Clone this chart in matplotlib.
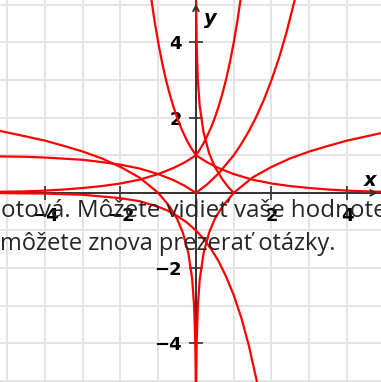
import matplotlib.pyplot as plt
from matplotlib.ticker import FixedLocator, MultipleLocator

# points, one pair of lists per graph
cusp_x = [-1.2, -1.1, -1.0, -0.9, -0.8, -0.7, -0.6, -0.5, -0.4, -0.3, -0.2, -0.1, 0.0,
          0.1, 0.2, 0.3, 0.4, 0.5, 0.6, 0.7, 0.8, 0.9, 1.0, 1.1, 1.2]
cusp_y = [5.28, 4.59, 4.0, 3.48, 3.03, 2.64, 2.3, 2.0, 1.74, 1.52, 1.32, 1.15, 1.0,
          1.15, 1.32, 1.52, 1.74, 2.0, 2.3, 2.64, 3.03, 3.48, 4.0, 4.59, 5.28]

peak_x = [-5.2, -4.5, -4.0, -3.5, -3.0, -2.5, -2.0, -1.5, -1.0, -0.6, -0.3, 0.0,
          0.3, 0.6, 1.0, 1.5, 2.0, 2.5, 3.0, 3.5, 4.0, 4.5, 4.9]
peak_y = [0.03, 0.04, 0.06, 0.09, 0.13, 0.18, 0.25, 0.35, 0.5, 0.66, 0.81, 1.0,
          0.81, 0.66, 0.5, 0.35, 0.25, 0.18, 0.13, 0.09, 0.06, 0.04, 0.03]

vee_x = [-5.2, -4.5, -4.0, -3.5, -3.0, -2.5, -2.0, -1.5, -1.0, -0.6, -0.3, 0.0,
         0.3, 0.6, 1.0, 1.2, 1.4, 1.6, 1.8, 2.0, 2.2, 2.4, 2.62]
vee_y = [0.97, 0.96, 0.94, 0.91, 0.88, 0.82, 0.75, 0.65, 0.5, 0.34, 0.19, 0.0,
         0.23, 0.52, 1.0, 1.3, 1.64, 2.03, 2.48, 3.0, 3.59, 4.28, 5.15]

lnl_x = [-5.2, -4.5, -4.0, -3.5, -3.0, -2.5, -2.0, -1.5, -1.0, -0.7, -0.5, -0.35,
         -0.2, -0.1, -0.05, -0.02, -0.01, -0.006]
lnl_y = [1.65, 1.5, 1.39, 1.25, 1.1, 0.92, 0.69, 0.41, 0.0, -0.36, -0.69, -1.05,
         -1.61, -2.3, -3.0, -3.91, -4.6, -5.1]

lnr_x = [0.006, 0.01, 0.02, 0.05, 0.1, 0.2, 0.35, 0.5, 0.7, 1.0, 1.5, 2.0, 2.5,
         3.0, 3.5, 4.0, 4.5, 4.9]
lnr_y = [-5.1, -4.6, -3.91, -3.0, -2.3, -1.61, -1.05, -0.69, -0.36, 0.0, 0.41, 0.69,
         0.92, 1.1, 1.25, 1.39, 1.5, 1.59]

# upper branch near the y axis, meets the x axis at 1
refl_x = [0.006, 0.01, 0.02, 0.05, 0.1, 0.2, 0.35, 0.5, 0.7, 0.85, 1.0]
refl_y = [5.1, 4.6, 3.91, 3.0, 2.3, 1.61, 1.05, 0.69, 0.36, 0.16, 0.0]

negexp_x = [-5.2, -4.0, -3.0, -2.0, -1.5, -1.0, -0.75, -0.5, -0.25, 0.0, 0.2, 0.4,
            0.6, 0.8, 1.0, 1.2, 1.4, 1.62]
negexp_y = [-0.006, -0.018, -0.05, -0.14, -0.22, -0.37, -0.47, -0.61, -0.78, -1.0,
            -1.22, -1.49, -1.82, -2.23, -2.72, -3.32, -4.06, -5.05]

curves = [(cusp_x, cusp_y), (peak_x, peak_y), (vee_x, vee_y), (lnl_x, lnl_y),
          (lnr_x, lnr_y), (refl_x, refl_y), (negexp_x, negexp_y)]

tick_vals = [-4, -2, 2, 4]
tick_labels = ['\u22124', '\u22122', '2', '4']

overlay_lines = ['otová. Môžete vidieť vaše hodnotenie',
                 'môžete znova prezerať otázky.']

fig = plt.figure(figsize=(3.81, 3.82), dpi=100)
ax = fig.add_axes([0, 0, 1, 1])
ax.set_xlim(-5.19, 4.90)
ax.set_ylim(-5.03, 5.13)

for xs, ys in curves:
    ax.plot(xs, ys, color='#ff0000', lw=1.6, zorder=3, solid_capstyle='butt')

# axes through the origin
for side in ['top', 'right']:
    ax.spines[side].set_visible(False)
for side in ['left', 'bottom']:
    ax.spines[side].set_position(('data', 0))
    ax.spines[side].set_color('#333333')
    ax.spines[side].set_linewidth(1.4)
    ax.spines[side].set_zorder(2)

ax.xaxis.set_major_locator(FixedLocator(tick_vals))
ax.yaxis.set_major_locator(FixedLocator(tick_vals))
ax.set_xticklabels(tick_labels, fontweight='bold')
ax.set_yticklabels(tick_labels, fontweight='bold')
ax.xaxis.set_minor_locator(MultipleLocator(1))
ax.yaxis.set_minor_locator(MultipleLocator(1))
ax.tick_params(which='major', direction='inout', length=10, width=1.2,
               color='#333333', labelsize=13, pad=5)
ax.tick_params(which='minor', length=0)
ax.grid(which='both', color='#e4e4e4', lw=1.4, zorder=0)
ax.set_axisbelow(True)

# arrow heads
ax.annotate('', xy=(4.89, 0), xytext=(4.6, 0),
            arrowprops=dict(arrowstyle='->', color='#333333', lw=1.4, mutation_scale=10))
ax.annotate('', xy=(0, 5.11), xytext=(0, 4.8),
            arrowprops=dict(arrowstyle='->', color='#333333', lw=1.4, mutation_scale=10))
ax.text(4.61, 0.32, 'x', fontsize=14, fontweight='bold', style='italic',
        ha='center', va='center')
ax.text(0.37, 4.65, 'y', fontsize=14, fontweight='bold', style='italic',
        ha='center', va='center')

# page text lying over the chart
fig.text(0.003, 1 - 217 / 382, overlay_lines[0], fontsize=17.4, family='Open Sans',
         color='#262626', va='baseline', ha='left', zorder=10)
fig.text(0.0, 1 - 250 / 382, overlay_lines[1], fontsize=17, family='Open Sans',
         color='#262626', va='baseline', ha='left', zorder=10)

fig.savefig('out.png', dpi=100)
